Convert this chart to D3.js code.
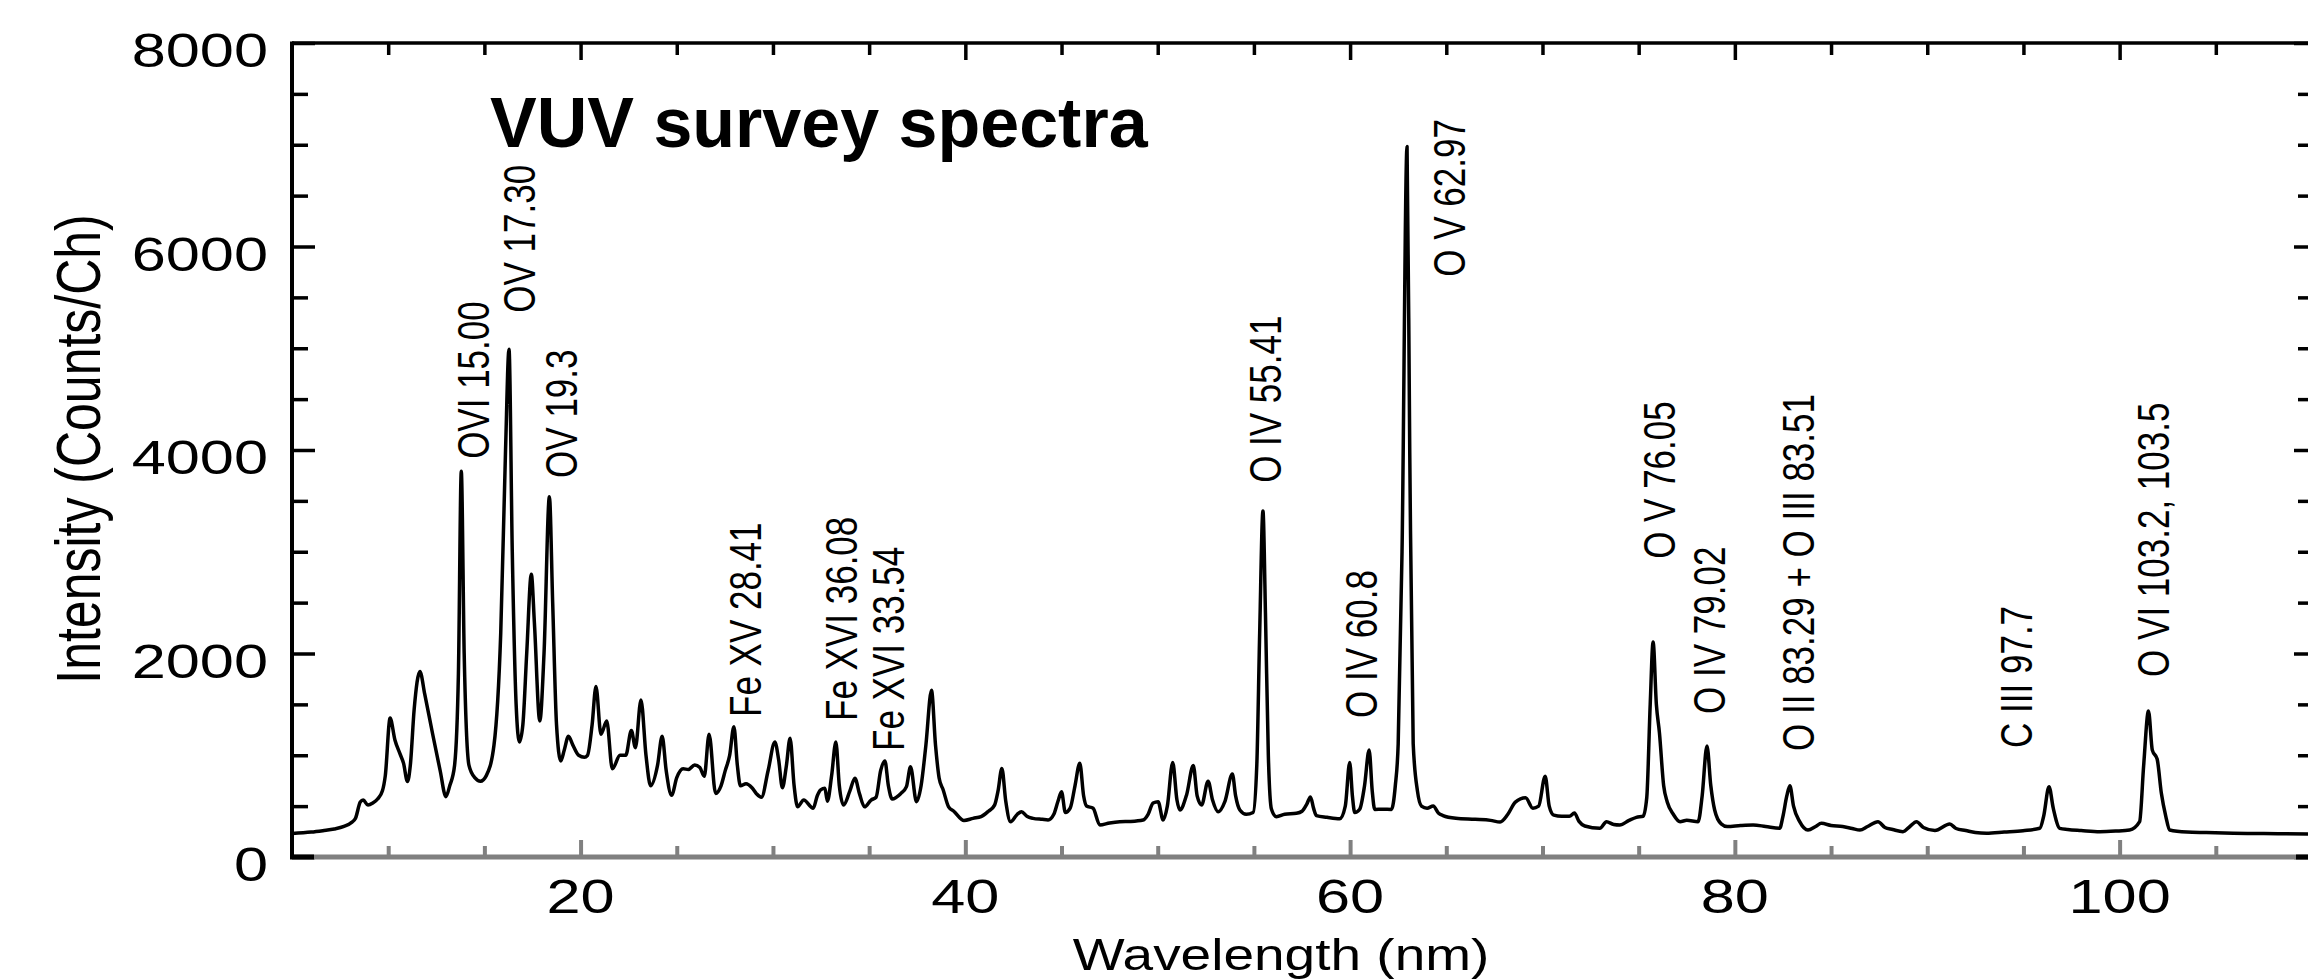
<!DOCTYPE html>
<html>
<head>
<meta charset="utf-8">
<script src="https://cdn.jsdelivr.net/npm/d3@7"></script>
<style>
  body { margin: 0; background: #fff; }
  svg { display: block; }
  text { font-family: "Liberation Sans", Arial, Helvetica, sans-serif; fill: #000; }
</style>
</head>
<body>
<svg id="chart" width="2308" height="979"></svg>
<script>
// VUV SURVEY SPECTRUM

// spectrum (nm, counts/ch)
const wavelength = [
  5.0, 6.0, 6.6, 7.2, 7.7, 8.1, 8.3, 8.55, 8.7, 8.95, 9.2, 9.45, 9.7, 9.85, 10.1, 10.35, 10.6, 10.8, 11.0, 11.15,
  11.35, 11.65, 11.9, 12.3, 12.7, 13.0, 13.2, 13.45, 13.65, 13.8, 13.95, 14.2, 14.5, 14.8, 15.1, 15.5, 15.85, 16.1, 16.28, 16.45,
  16.65, 16.82, 17.0, 17.2, 17.44, 17.6, 17.88, 18.1, 18.38, 18.55, 18.75, 18.97, 19.15, 19.37, 19.6, 19.9, 20.2, 20.36, 20.6, 20.8,
  21.06, 21.36, 21.65, 22.05, 22.35, 22.64, 22.85, 23.14, 23.4, 23.64, 24.0, 24.24, 24.45, 24.73, 25.0, 25.33, 25.6, 25.93, 26.2, 26.43,
  26.68, 27.02, 27.3, 27.52, 27.75, 27.97, 28.15, 28.31, 28.6, 28.91, 29.15, 29.4, 29.75, 30.1, 30.3, 30.49, 30.7, 30.89, 31.1, 31.28,
  31.6, 32.09, 32.3, 32.48, 32.7, 32.83, 33.05, 33.27, 33.45, 33.67, 34.0, 34.26, 34.5, 34.76, 35.1, 35.36, 35.6, 35.82, 36.0, 36.2,
  36.65, 36.94, 37.15, 37.46, 37.7, 37.95, 38.24, 38.45, 38.64, 38.85, 39.13, 39.4, 39.93, 40.4, 40.82, 41.2, 41.52, 41.7, 41.9, 42.1,
  42.35, 42.7, 42.92, 43.2, 43.52, 44.0, 44.3, 44.6, 44.82, 45.0, 45.2, 45.45, 45.7, 45.95, 46.15, 46.3, 46.64, 46.99, 47.5, 48.03,
  48.6, 49.24, 49.5, 49.76, 50.02, 50.28, 50.5, 50.78, 51.0, 51.15, 51.5, 51.85, 52.05, 52.28, 52.62, 52.85, 53.14, 53.5, 53.88, 54.05,
  54.27, 54.6, 54.96, 55.15, 55.3, 55.47, 55.6, 55.75, 55.91, 56.17, 56.6, 57.21, 57.5, 57.75, 57.94, 58.1, 58.25, 58.8, 59.46, 59.75,
  59.98, 60.12, 60.24, 60.5, 60.75, 60.99, 61.15, 61.28, 61.7, 62.15, 62.35, 62.5, 62.7, 62.96, 63.1, 63.28, 63.5, 63.71, 64.0, 64.32,
  64.6, 64.83, 65.5, 66.5, 67.3, 67.8, 68.2, 68.59, 69.12, 69.5, 69.8, 70.14, 70.35, 70.59, 71.0, 71.4, 71.66, 71.9, 72.2, 72.98,
  73.33, 73.7, 74.02, 74.5, 74.88, 75.23, 75.42, 75.6, 75.75, 75.92, 76.08, 76.3, 76.49, 76.8, 77.15, 77.5, 78.09, 78.3, 78.55, 78.75,
  78.95, 79.29, 79.6, 80.3, 80.95, 81.6, 82.33, 82.5, 82.7, 82.86, 83.05, 83.37, 83.8, 84.2, 84.5, 85.0, 85.6, 86.1, 86.5, 86.9,
  87.44, 87.8, 88.2, 88.74, 89.1, 89.44, 89.8, 90.4, 91.17, 91.5, 92.0, 92.5, 93.08, 94.0, 94.98, 95.85, 96.05, 96.33, 96.55, 96.89,
  97.3, 98.0, 98.97, 99.8, 100.52, 101.04, 101.25, 101.5, 101.7, 101.95, 102.17, 102.4, 102.6, 103.5, 104.5, 105.9, 107.5, 109.8, 110.0
];
const intensity = [
  230, 245, 259, 275, 300, 340, 380, 540, 560, 510, 530, 570, 650, 800, 1366, 1150, 1020, 920, 741, 900,
  1450, 1822, 1600, 1219, 850, 593, 700, 900, 1800, 3790, 2000, 900, 780, 745, 800, 1100, 2200, 4000, 4990, 3000,
  1500, 1130, 1300, 2000, 2780, 2300, 1337, 2000, 3540, 2500, 1300, 944, 1050, 1187, 1100, 1000, 980, 999, 1300, 1676,
  1206, 1337, 867, 999, 1000, 1244, 1074, 1544, 1000, 700, 900, 1187, 850, 606, 780, 867, 860, 905, 880, 793,
  1206, 625, 700, 849, 1000, 1281, 900, 700, 720, 681, 620, 587, 850, 1130, 950, 681, 900, 1168, 700, 493,
  560, 479, 600, 660, 675, 548, 800, 1130, 700, 510, 650, 774, 620, 493, 560, 587, 850, 944, 700, 570,
  625, 691, 886, 544, 700, 1100, 1638, 1100, 774, 659, 493, 450, 359, 380, 397, 450, 510, 650, 870, 550,
  347, 420, 445, 400, 380, 370, 364, 420, 550, 642, 437, 480, 700, 921, 600, 501, 479, 315, 335, 347,
  350, 364, 420, 531, 544, 364, 500, 929, 560, 462, 610, 899, 600, 511, 744, 560, 445, 550, 815, 600,
  462, 420, 437, 900, 2200, 3400, 2400, 1000, 472, 396, 420, 430, 450, 520, 590, 480, 407, 390, 376, 500,
  929, 600, 437, 470, 700, 1052, 650, 468, 470, 468, 700, 1113, 3000, 6982, 4000, 1113, 650, 501, 480, 501,
  430, 407, 380, 370, 360, 344, 420, 539, 582, 480, 500, 794, 500, 411, 400, 400, 432, 350, 305, 282,
  347, 320, 315, 360, 390, 400, 582, 1500, 2114, 1500, 1220, 700, 539, 420, 347, 360, 347, 600, 1092, 700,
  462, 326, 300, 310, 315, 300, 282, 400, 600, 700, 500, 347, 265, 300, 331, 310, 300, 280, 265, 300,
  347, 290, 270, 249, 300, 347, 290, 260, 324, 280, 260, 240, 233, 245, 259, 282, 400, 691, 480, 282,
  270, 260, 249, 255, 265, 347, 900, 1435, 1050, 963, 626, 400, 265, 245, 240, 233, 230, 226, 226
];

// axis ticks
const xMajorTicks = [20, 40, 60, 80, 100];
const xMinorTicks = [10, 15, 25, 30, 35, 45, 50, 55, 65, 70, 75, 85, 90, 95, 105];
const yMajorTicks = [0, 2000, 4000, 6000, 8000];
const yMinorTicks = [500, 1000, 1500, 2500, 3000, 3500, 4500, 5000, 5500, 6500, 7000, 7500];

// line identifications, anchored in data units (nm, counts) at the start of the text
const lineLabels = [
  "OVI 15.00", "OV 17.30", "OV 19.3", "Fe XV 28.41", "Fe XVI 36.08", "Fe XVI 33.54", "O IV 55.41",
  "O IV 60.8", "O V 62.97", "O V 76.05", "O IV 79.02", "O II 83.29 + O III 83.51", "C III 97.7", "O VI 103.2, 103.5"
];
const labelNm = [14.45, 16.85, 19.03, 28.59, 33.58, 36.02, 55.62, 60.61, 65.18, 76.1, 78.7, 83.32, 94.65, 101.78];
const labelCounts = [3913, 5349, 3726, 1376, 1337, 1042, 3677, 1367, 5703, 2930, 1406, 1042, 1072, 1770];

const titleText = "VUV survey spectra";
const xTitle = "Wavelength (nm)";
const yTitle = "Intensity (Counts/Ch)";

// the scanned figure is stretched sideways a bit
const stretch = 1.25;

const svg = d3.select("#chart");
const plotLeft = 292, plotRight = 2312, plotTop = 43, plotBottom = 857;

const x = d3.scaleLinear().domain([5, 110]).range([plotLeft, plotRight]);
const y = d3.scaleLinear().domain([0, 8000]).range([plotBottom, plotTop]);

// spectrum
const spectrum = wavelength.map((d, i) => ({ nm: d, c: intensity[i] }));
svg.append("path")
  .datum(spectrum)
  .attr("fill", "none")
  .attr("stroke", "#000")
  .attr("stroke-width", 3.5)
  .attr("stroke-linejoin", "round")
  .attr("d", d3.line().x(d => x(d.nm)).y(d => y(d.c)).curve(d3.curveMonotoneX));

// axes: ticks only, labels drawn by hand
function ticks(axis, vals, size, pos, color, width) {
  const g = svg.append("g")
    .attr("transform", pos)
    .call(axis.tickValues(vals).tickSize(size).tickFormat(""));
  g.select(".domain").remove();
  g.selectAll("line").attr("stroke", color).attr("stroke-width", width);
}
ticks(d3.axisBottom(x), xMajorTicks, -17, `translate(0,${plotBottom})`, "#808080", 4);
ticks(d3.axisBottom(x), xMinorTicks, -11, `translate(0,${plotBottom})`, "#808080", 4);
ticks(d3.axisTop(x), xMajorTicks, -17, `translate(0,${plotTop})`, "#000", 3.5);
ticks(d3.axisTop(x), xMinorTicks, -12, `translate(0,${plotTop})`, "#000", 3.5);
ticks(d3.axisLeft(y), yMajorTicks, -23, `translate(${plotLeft},0)`, "#000", 3.5);
ticks(d3.axisLeft(y), yMinorTicks, -16, `translate(${plotLeft},0)`, "#000", 3.5);
ticks(d3.axisRight(y), yMajorTicks, -18, `translate(${plotRight},0)`, "#000", 3.5);
ticks(d3.axisRight(y), yMinorTicks, -14, `translate(${plotRight},0)`, "#000", 3.5);

// frame
svg.append("line").attr("x1", plotLeft).attr("x2", plotRight).attr("y1", plotBottom).attr("y2", plotBottom)
  .attr("stroke", "#808080").attr("stroke-width", 5);
svg.append("line").attr("x1", plotLeft - 2).attr("x2", plotLeft + 22).attr("y1", plotBottom).attr("y2", plotBottom)
  .attr("stroke", "#000").attr("stroke-width", 5);
svg.append("line").attr("x1", plotRight - 16).attr("x2", plotRight).attr("y1", plotBottom).attr("y2", plotBottom)
  .attr("stroke", "#000").attr("stroke-width", 5);
svg.append("line").attr("x1", plotLeft).attr("x2", plotRight).attr("y1", plotTop).attr("y2", plotTop)
  .attr("stroke", "#000").attr("stroke-width", 3.5);
svg.append("line").attr("x1", plotLeft).attr("x2", plotLeft).attr("y1", plotTop - 1.5).attr("y2", plotBottom + 2)
  .attr("stroke", "#000").attr("stroke-width", 4);
svg.append("line").attr("x1", plotRight).attr("x2", plotRight).attr("y1", plotTop - 1.5).attr("y2", plotBottom + 2)
  .attr("stroke", "#000").attr("stroke-width", 4);

// tick labels
svg.selectAll(".xlab").data(xMajorTicks).enter().append("text")
  .attr("class", "xlab")
  .attr("transform", d => `translate(${x(d)},${plotBottom + 56}) scale(${stretch},1)`)
  .attr("text-anchor", "middle")
  .style("font-size", "49px")
  .text(d => d);
svg.selectAll(".ylab").data(yMajorTicks).enter().append("text")
  .attr("class", "ylab")
  .attr("transform", d => `translate(268,${y(d) + 24}) scale(${stretch},1)`)
  .attr("text-anchor", "end")
  .style("font-size", "49px")
  .text(d => d);

// axis titles
svg.append("text")
  .attr("transform", `translate(1281,970) scale(${stretch},1)`)
  .attr("text-anchor", "middle")
  .style("font-size", "44px")
  .text(xTitle);
svg.append("text")
  .attr("transform", `translate(100,449) scale(${stretch},1) rotate(-90)`)
  .attr("text-anchor", "middle")
  .style("font-size", "50px")
  .text(yTitle);

// line labels
svg.selectAll(".peak").data(lineLabels).enter().append("text")
  .attr("class", "peak")
  .attr("transform", (d, i) => `translate(${x(labelNm[i]) + 15},${y(labelCounts[i])}) scale(${stretch},1) rotate(-90)`)
  .attr("text-anchor", "start")
  .style("font-size", "35px")
  .text(d => d);

// title
svg.append("text")
  .attr("x", 490)
  .attr("y", 147)
  .style("font-size", "70px")
  .style("font-weight", "bold")
  .text(titleText);
</script>
</body>
</html>
